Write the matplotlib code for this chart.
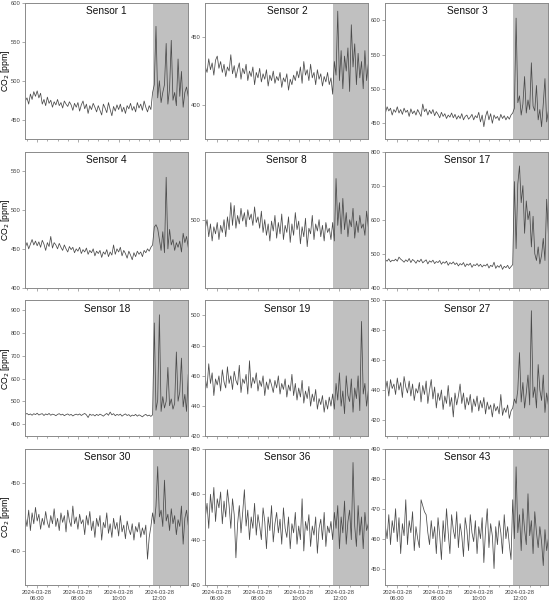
"""
CO2 time series for 12 sensors, 2024-03-28, with the shaded period from 11:40.
"""

import matplotlib

matplotlib.use("Agg")
import matplotlib.dates as mdates
import matplotlib.pyplot as plt
import pandas as pd

plt.rcParams["font.family"] = ["Liberation Sans", "DejaVu Sans"]

# 5-minute samples, 05:25 .. 13:25
times = pd.date_range("2024-03-28 05:25", "2024-03-28 13:25", freq="5min")
shade_start = pd.Timestamp("2024-03-28 11:40")

sensor_names = ["Sensor 1", "Sensor 2", "Sensor 3", "Sensor 4", "Sensor 8", "Sensor 17",
                "Sensor 18", "Sensor 19", "Sensor 27", "Sensor 30", "Sensor 36", "Sensor 43"]

s1 = [474, 478, 470, 483, 476, 486, 480,
      487, 478, 484, 470, 476, 468, 479, 471, 475, 466, 473, 469,
      476, 468, 472, 465, 474, 470, 467, 473, 469, 462, 471, 466,
      472, 461, 469, 474, 464, 470, 458, 468, 463, 471, 466, 460,
      468, 462, 456, 470, 465, 459, 472, 463, 455, 467, 461, 469,
      463, 470, 460, 466, 458, 468, 464, 471, 462, 467, 460, 472,
      465, 470, 462, 474, 466, 460, 468, 463,
      485, 495, 570, 478, 500, 472, 485, 495, 548, 470, 490, 552,
      475, 485, 468, 528, 480, 512, 466, 485, 492, 480]
s2 = [428, 424, 434, 426, 431, 422, 433,
      436, 427, 432, 424, 430, 421, 428, 425, 437, 423, 429, 420,
      426, 431, 419, 427, 423, 430, 418, 425, 421, 428, 415, 424,
      420, 427, 417, 423, 419, 426, 414, 422, 418, 425, 416, 421,
      418, 424, 413, 420, 417, 423, 411, 419, 415, 422, 418, 425,
      420, 428, 416, 432, 422, 426, 418, 430, 420, 424, 415, 426,
      419, 423, 414, 421, 417, 424, 415, 420,
      408, 432, 422, 469, 418, 440, 412, 436, 425, 442, 410, 459,
      428, 445, 415, 438, 420, 432, 412, 440, 418, 430]
s3 = [465, 474, 468, 472, 462, 470, 466,
      474, 465, 470, 463, 472, 466, 469, 460, 471, 464, 468, 462,
      470, 465, 460, 478, 467, 471, 462, 469, 464, 470, 461, 467,
      463, 458, 466, 460, 464, 457, 462, 459, 465, 458, 463, 456,
      461, 457, 464, 455, 460, 462, 456, 459, 463, 455, 461, 458,
      466, 452, 462, 445, 460, 468, 455, 464, 450, 462, 457, 460,
      454, 463, 457, 461, 455, 460, 456, 462,
      465, 472, 603, 480, 490, 462, 478, 518, 465, 484, 470, 538,
      475, 468, 505, 455, 470, 445, 478, 515, 452, 468]
s4 = [452, 458, 450, 456, 462, 455, 460,
      454, 459, 452, 461, 456, 448, 458, 453, 466, 451, 458, 455,
      450, 457, 452, 448, 455, 450, 446, 453, 449, 452, 445, 450,
      447, 452, 444, 449, 446, 451, 443, 448, 445, 450, 441, 447,
      444, 448, 439, 446, 443, 449, 440, 446, 442, 455, 443, 450,
      446, 452, 441, 448, 444, 438, 447, 442, 436, 445, 440, 447,
      443, 446, 440, 448, 445, 450, 447, 452,
      455, 478, 481, 476, 462, 448, 472, 445, 542, 450, 475, 455,
      462, 448, 458, 452, 460, 446, 470, 458, 466, 452]
s8 = [494, 500, 488, 497, 485, 495, 490,
      498, 486, 496, 491, 500, 488, 502, 493, 512, 496, 510, 494,
      503, 497, 508, 499, 505, 495, 507, 500, 504, 496, 509, 498,
      502, 494, 506, 491, 500, 489, 497, 485, 499, 492, 503, 487,
      498, 490, 504, 486, 496, 491, 502, 484, 497, 489, 505, 493,
      499, 483, 495, 488, 501, 481, 494, 490, 503, 486, 497, 492,
      500, 488, 496, 485, 498, 491, 494, 486,
      498, 485, 529, 496, 512, 490, 515, 493, 505, 488, 500, 495,
      508, 487, 499, 491, 503, 494, 497, 489, 506, 495]
s17 = [482, 478, 485, 476, 481, 479, 484,
       478, 490, 484, 480, 475, 482, 477, 486, 474, 483, 479, 472,
       481, 476, 484, 473, 478, 482, 470, 479, 475, 481, 471, 477,
       474, 480, 469, 476, 472, 478, 466, 474, 470, 476, 468, 473,
       464, 471, 467, 474, 462, 470, 466, 472, 460, 468, 465, 471,
       463, 469, 461, 467, 464, 470, 458, 466, 462, 475, 457, 465,
       460, 468, 454, 463, 459, 466, 456, 462,
       468, 712, 515, 705, 758, 650, 700, 560, 655, 600, 625, 520,
       610, 500, 480, 520, 470, 495, 545, 480, 660, 560]
s18 = [442, 446, 440, 444, 438, 445, 441,
       447, 439, 443, 445, 437, 444, 440, 446, 438, 443, 441, 436,
       442, 445, 439, 443, 436, 441, 444, 438, 442, 435, 440, 443,
       439, 444, 437, 442, 446, 440, 428, 443, 438, 441, 435, 442,
       437, 443, 439, 434, 441, 446, 438, 452, 440, 445, 436, 442,
       438, 443, 434, 440, 444, 437, 441, 433, 439, 436, 442, 434,
       440, 436, 431, 438, 442, 435, 439, 433,
       440, 845, 460, 505, 881, 455, 520, 470, 500, 649, 480, 510,
       465, 490, 717, 500, 540, 690, 475, 530, 455, 617]
s19 = [458, 452, 468, 455, 462, 447, 458,
       454, 460, 450, 464, 456, 452, 466, 455, 460, 451, 463, 457,
       454, 467, 449, 458, 455, 461, 448, 470, 452, 459, 455, 462,
       450, 457, 453, 460, 447, 456, 451, 458, 454, 449, 457, 452,
       460, 448, 455, 451, 458, 446, 454, 450, 461, 447, 455, 444,
       452, 446, 457, 442, 450, 445, 453, 440, 448, 443, 451, 438,
       445, 441, 447, 436, 444, 438, 446, 440,
       448, 438, 455, 444, 462, 440, 450, 435, 460, 447, 443, 458,
       436, 452, 445, 460, 437, 496, 448, 455, 440, 450]
s27 = [440, 446, 436, 447, 441, 444, 437,
       448, 440, 445, 435, 449, 442, 438, 446, 436, 444, 433, 441,
       438, 445, 432, 443, 437, 446, 431, 440, 447, 434, 442, 428,
       438, 433, 440, 427, 436, 431, 443, 429, 435, 422, 438, 430,
       436, 444, 431, 438, 427, 435, 430, 437, 425, 434, 429, 436,
       426, 433, 428, 435, 424, 432, 427, 430, 422, 431, 426, 429,
       424, 437, 423, 428, 425, 430, 421, 426,
       428, 434, 431, 440, 465, 432, 445, 428, 438, 450, 430, 493,
       435, 442, 428, 457, 440, 433, 450, 425, 438, 430]
s30 = [425, 418, 430, 415, 428, 420, 432,
       422, 427, 416, 424, 419, 429, 421, 417, 426, 420, 431, 418,
       424, 415, 428, 421, 426, 414, 430, 422, 418, 433, 420, 425,
       416, 427, 420, 423, 412, 426, 419, 429, 415, 422, 410, 424,
       418, 426, 408, 421, 417, 428, 413, 420, 410, 424, 416, 421,
       411, 426, 414, 419, 409, 422, 416, 412, 420, 408, 418, 414,
       421, 410, 417, 412, 419, 394, 410, 418,
       428, 420, 433, 462, 425, 430, 418, 452, 422, 427, 415, 431,
       420, 426, 412, 423, 418, 433, 405, 424, 430, 419]
s36 = [450, 456, 445, 460, 452, 463, 448,
       458, 454, 461, 447, 457, 450, 462, 455, 445, 458, 451, 432,
       447, 455, 443, 452, 462, 446, 453, 440, 450, 445, 456, 442,
       451, 446, 440, 454, 448, 436, 450, 444, 455, 439, 447, 452,
       443, 449, 438, 454, 445, 441, 450, 436, 447, 443, 452, 438,
       446, 440, 458, 435, 448, 444, 451, 437, 446, 442, 450, 434,
       445, 449, 440, 452, 437, 446, 443, 448,
       440, 452, 445, 455, 436, 450, 443, 457, 438, 448, 453, 440,
       474, 446, 437, 455, 442, 450, 436, 452, 444, 447]
s43 = [464, 460, 468, 458, 466, 462, 470,
       459, 467, 455, 465, 461, 473, 458, 466, 462, 469, 456, 464,
       460, 457, 473, 471, 469, 468, 462, 458, 466, 460, 464, 455,
       467, 461, 453, 466, 459, 470, 462, 455, 468, 463, 460, 469,
       457, 465, 461, 454, 467, 463, 456, 468, 462, 459, 466, 455,
       464, 460, 467, 452, 463, 470, 457, 465, 461, 450, 464, 458,
       466, 462, 455, 468, 460, 464, 458, 453,
       473, 460, 484, 462, 468, 456, 470, 463, 458, 475, 461, 466,
       455, 469, 462, 457, 464, 459, 451, 463, 456, 460]

series = [s1, s2, s3, s4, s8, s17, s18, s19, s27, s30, s36, s43]

y_limits = [(425, 600), (375, 475), (427, 625), (400, 575), (452, 548), (400, 800),
            (345, 945), (420, 510), (409, 500), (375, 475), (420, 480), (444.5, 490)]
y_steps = [50, 50, 50, 50, 50, 100, 100, 20, 20, 50, 20, 10]


def main():
    fig, axes = plt.subplots(4, 3, figsize=(5.5, 6.0), dpi=100)
    fig.subplots_adjust(left=0.046, right=0.997, top=0.995, bottom=0.025,
                        wspace=0.105, hspace=0.092)

    for i, ax in enumerate(axes.flat):
        ax.axvspan(shade_start, times[-1], color="#c0c0c0", lw=0, zorder=0)
        ax.plot(times, series[i], color="#4a4a4a", lw=0.55, zorder=2)
        ax.set_xlim(times[0], times[-1])
        ax.set_ylim(*y_limits[i])
        ax.yaxis.set_major_locator(matplotlib.ticker.MultipleLocator(y_steps[i]))
        ax.text(0.5, 0.975, sensor_names[i], transform=ax.transAxes,
                ha="center", va="top", fontsize=7.3, color="#111111")

        ax.xaxis.set_major_locator(mdates.HourLocator(byhour=[6, 8, 10, 12]))
        ax.xaxis.set_minor_locator(mdates.MinuteLocator(byminute=[0, 30]))
        ax.xaxis.set_major_formatter(mdates.DateFormatter("%Y-%m-%d\n%H:%M"))

        ax.tick_params(axis="both", which="both", direction="out", color="#888888",
                       width=0.5, labelsize=4.2, labelcolor="#444444", pad=1.5)
        ax.tick_params(axis="both", which="major", length=2.0)
        ax.tick_params(axis="x", which="minor", length=1.2)
        for spine in ax.spines.values():
            spine.set_color("#8a8a8a")
            spine.set_linewidth(0.7)

        if i < 9:
            ax.tick_params(axis="x", labelbottom=False)
        else:
            for label in ax.get_xticklabels():
                label.set_ha("center")
                label.set_linespacing(1.3)
        if i % 3 == 0:
            ax.set_ylabel("CO$_2$ [ppm]", fontsize=6.2)
            ax.yaxis.set_label_coords(-0.083, 0.5)

    fig.savefig("out.png", dpi=100)
    plt.close(fig)


if __name__ == "__main__":
    main()
